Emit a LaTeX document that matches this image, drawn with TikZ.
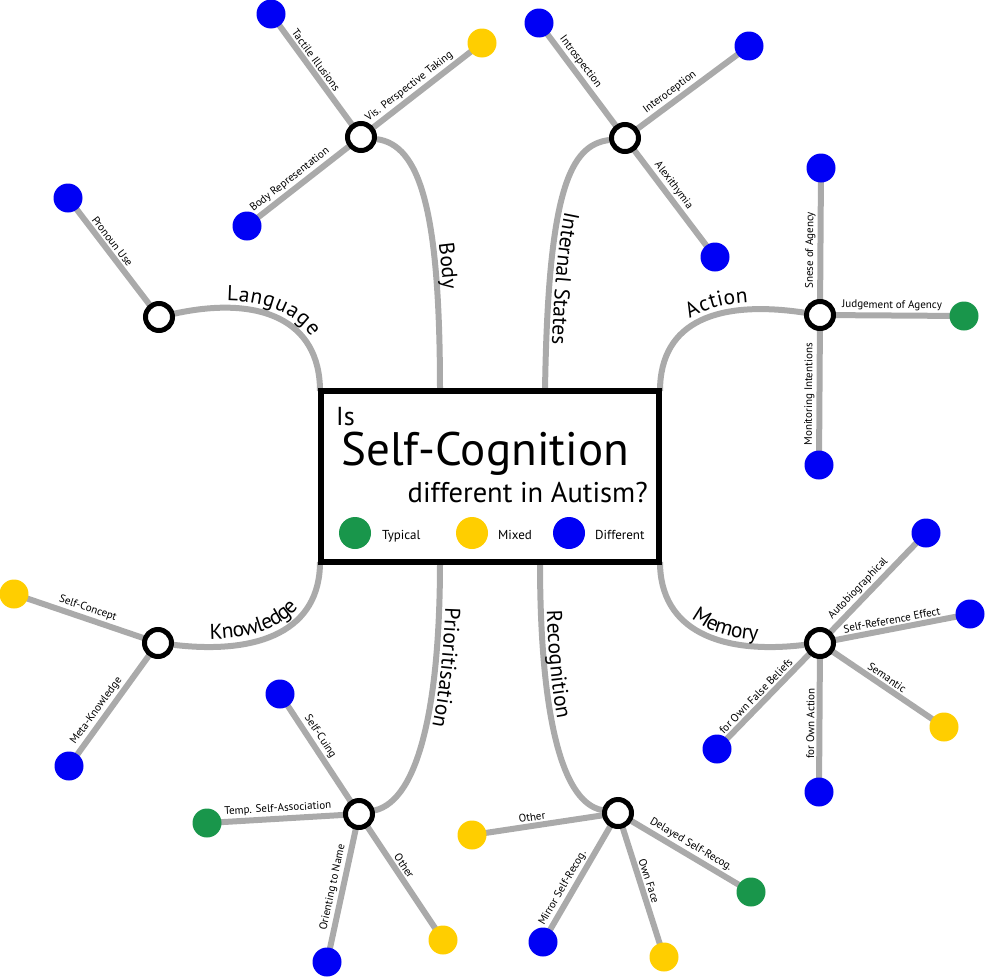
\documentclass[tikz,border=0pt]{standalone}
\usepackage{fontspec}
\setmainfont{PT Sans}
\usetikzlibrary{decorations.text,backgrounds}
\definecolor{lblue}{RGB}{0,0,245}
\definecolor{lgreen}{RGB}{25,150,75}
\definecolor{lyellow}{RGB}{255,206,0}
\definecolor{lgray}{RGB}{170,170,170}
\newcommand\brf{\fontsize{21.5pt}{21.5pt}\selectfont}
\newcommand\lff{\fontsize{11pt}{11pt}\selectfont}
\begin{document}
\begin{tikzpicture}[x=1pt,y=-1pt,
 hub/.style={circle, draw=black, fill=white, line width=5pt, minimum size=27pt, inner sep=0pt},
 leaf/.style={circle, fill=#1, minimum size=29pt, inner sep=0pt},
 legdot/.style={circle, fill=#1, minimum size=32pt, inner sep=0pt},
 conn/.style={draw=lgray, line width=6pt},
 lab/.style={sloped, anchor=south, inner sep=2pt, font=\lff, text=black},
 legtxt/.style={anchor=base west, inner sep=0pt, font=\fontsize{13pt}{13pt}\selectfont}
]
\useasboundingbox (0,0) rectangle (985,977);

% central box
\node[draw=black, fill=white, line width=5.5pt, minimum width=338pt, minimum height=171pt, inner sep=0pt] (box) at (490,476.5) {};
\node[anchor=base west, inner sep=0pt, font=\fontsize{26pt}{26pt}\selectfont] (tIs) at (336,425) {Is};
\node[anchor=base west, inner sep=0pt, font=\fontsize{47pt}{47pt}\selectfont] (tSC) at (341,465) {Self-Cognition};
\node[anchor=base east, inner sep=0pt, font=\fontsize{28.5pt}{28.5pt}\selectfont] (tDi) at (648,502) {different in Autism?};
\node[legdot=lgreen] (gT) at (355,533) {};
\node[legtxt] (tT) at (382,539) {Typical};
\node[legdot=lyellow] (gM) at (472,533) {};
\node[legtxt] (tM) at (498,539) {Mixed};
\node[legdot=lblue] (gD) at (569,533) {};
\node[legtxt] (tD) at (595,539) {Different};

% roots on the box
\coordinate (rLa) at (320,391);
\coordinate (rBo) at (440,391);
\coordinate (rIn) at (545,391);
\coordinate (rAc) at (660,391);
\coordinate (rMe) at (660,562);
\coordinate (rRe) at (540,562);
\coordinate (rPr) at (440,562);
\coordinate (rKn) at (320,562);

% hubs
\node[hub] (hBo) at (361,137) {};
\node[hub] (hIn) at (625,138) {};
\node[hub] (hAc) at (820,315) {};
\node[hub] (hMe) at (820,643) {};
\node[hub] (hRe) at (618,813) {};
\node[hub] (hPr) at (359,814) {};
\node[hub] (hKn) at (158,643) {};
\node[hub] (hLa) at (159,317) {};

% leaves
\node[leaf=lblue] (lTac) at (271,14) {};
\node[leaf=lyellow] (lVis) at (482,43) {};
\node[leaf=lblue] (lBR) at (247,226) {};
\node[leaf=lblue] (lIntro) at (539,23) {};
\node[leaf=lblue] (lIntero) at (749,46) {};
\node[leaf=lblue] (lAlex) at (715,257) {};
\node[leaf=lblue] (lSn) at (821,168) {};
\node[leaf=lgreen] (lJu) at (964,316) {};
\node[leaf=lblue] (lMo) at (819,465) {};
\node[leaf=lblue] (lAu) at (926,533) {};
\node[leaf=lblue] (lSR) at (970,614) {};
\node[leaf=lyellow] (lSe) at (944,727) {};
\node[leaf=lblue] (lOA) at (819,792) {};
\node[leaf=lblue] (lFB) at (717,749) {};
\node[leaf=lyellow] (lRO) at (472,835) {};
\node[leaf=lblue] (lMi) at (543,942) {};
\node[leaf=lyellow] (lOF) at (664,957) {};
\node[leaf=lgreen] (lDe) at (751,892) {};
\node[leaf=lblue] (lSC) at (280,694) {};
\node[leaf=lgreen] (lTe) at (207,823) {};
\node[leaf=lblue] (lOr) at (327,962) {};
\node[leaf=lyellow] (lPO) at (443,940) {};
\node[leaf=lyellow] (lSCo) at (14,594) {};
\node[leaf=lblue] (lMK) at (69,766) {};
\node[leaf=lblue] (lPr) at (68,198) {};

\begin{pgfonlayer}{background}
% main branches
\draw[conn] (hLa) .. controls (260,295) and (320,320) .. (rLa);
\draw[conn] (hBo) .. controls (420,145) and (440,210) .. (rBo);
\draw[conn] (hIn) .. controls (570,145) and (548,190) .. (rIn);
\draw[conn] (rAc) .. controls (660,320) and (720,300) .. (hAc);
\draw[conn] (rMe) .. controls (660,630) and (720,655) .. (hMe);
\draw[conn] (rRe) .. controls (540,700) and (558,802) .. (hRe);
\draw[conn] (rPr) .. controls (440,700) and (420,800) .. (hPr);
\draw[conn] (hKn) .. controls (260,655) and (320,630) .. (rKn);
% leaf connectors with labels
\draw[conn] (hBo.center) -- node[lab, pos=.58] {Tactile Illusions} (lTac.center);
\draw[conn] (hBo.center) -- node[lab, pos=.45] {Vis. Perspective Taking} (lVis.center);
\draw[conn] (hBo.center) -- node[lab, pos=.57] {Body Representation} (lBR.center);
\draw[conn] (hIn.center) -- node[lab, pos=.61] {Introspection} (lIntro.center);
\draw[conn] (hIn.center) -- node[lab, pos=.41] {Interoception} (lIntero.center);
\draw[conn] (hIn.center) -- node[lab, pos=.45] {Alexithymia} (lAlex.center);
\draw[conn] (hAc.center) -- node[lab, pos=.44] {Snese of Agency} (lSn.center);
\draw[conn] (hAc.center) -- node[lab, pos=.5] {Judgement of Agency} (lJu.center);
\draw[conn] (hAc.center) -- node[lab, pos=.53] {Monitoring Intentions} (lMo.center);
\draw[conn] (hMe.center) -- node[lab, pos=.43] {Autobiographical} (lAu.center);
\draw[conn] (hMe.center) -- node[lab, pos=.49] {Self-Reference Effect} (lSR.center);
\draw[conn] (hMe.center) -- node[lab, pos=.5] {Semantic} (lSe.center);
\draw[conn] (hMe.center) -- node[lab, pos=.54] {for Own Action} (lOA.center);
\draw[conn] (hMe.center) -- node[lab, pos=.56] {for Own False Beliefs} (lFB.center);
\draw[conn] (hRe.center) -- node[lab, pos=.58] {Other} (lRO.center);
\draw[conn] (hRe.center) -- node[lab, pos=.62] {Mirror Self-Recog.} (lMi.center);
\draw[conn] (hRe.center) -- node[lab, pos=.49] {Own Face} (lOF.center);
\draw[conn] (hRe.center) -- node[lab, pos=.51] {Delayed Self-Recog.} (lDe.center);
\draw[conn] (hPr.center) -- node[lab, pos=.6] {Self-Cuing} (lSC.center);
\draw[conn] (hPr.center) -- node[lab, pos=.53] {Temp. Self-Association} (lTe.center);
\draw[conn] (hPr.center) -- node[lab, pos=.51] {Orienting to Name} (lOr.center);
\draw[conn] (hPr.center) -- node[lab, pos=.45] {Other} (lPO.center);
\draw[conn] (hKn.center) -- node[lab, pos=.51] {Self-Concept} (lSCo.center);
\draw[conn] (hKn.center) -- node[lab, pos=.6] {Meta-Knowledge} (lMK.center);
\draw[conn] (hLa.center) -- node[lab, pos=.59] {Pronoun Use} (lPr.center);
\end{pgfonlayer}

% branch labels along the curves
\path[decorate, decoration={text along path, text={|\brf|Language}, text align=center, raise=7pt}]
  (hLa) .. controls (260,295) and (320,320) .. (rLa);
\path[decorate, decoration={text along path, text={|\brf|Body}, text align={center, left indent=26pt}, raise=6pt}]
  (hBo) .. controls (420,145) and (440,210) .. (rBo);
\path[decorate, decoration={text along path, text={|\brf|Internal States}, text align={center, left indent=46pt}, raise=6pt}]
  (hIn) .. controls (570,145) and (548,190) .. (rIn);
\path[decorate, decoration={text along path, text={|\brf|Action}, text align={center, left indent=22pt}, raise=7pt}]
  (rAc) .. controls (660,320) and (720,300) .. (hAc);
\path[decorate, decoration={text along path, text={|\brf|Memory}, text align={center, left indent=24pt}, raise=7pt}]
  (rMe) .. controls (660,630) and (720,655) .. (hMe);
\path[decorate, decoration={text along path, text={|\brf|Recognition}, text align={center, right indent=60pt}, raise=6pt}]
  (rRe) .. controls (540,700) and (558,802) .. (hRe);
\path[decorate, decoration={text along path, text={|\brf|Prioritisation}, text align={center, right indent=60pt}, raise=6pt}]
  (rPr) .. controls (440,700) and (420,800) .. (hPr);
\path[decorate, decoration={text along path, text={|\brf|Knowledge}, text align={center, right indent=18pt}, raise=8pt}]
  (hKn) .. controls (260,655) and (320,630) .. (rKn);
\end{tikzpicture}
\end{document}
